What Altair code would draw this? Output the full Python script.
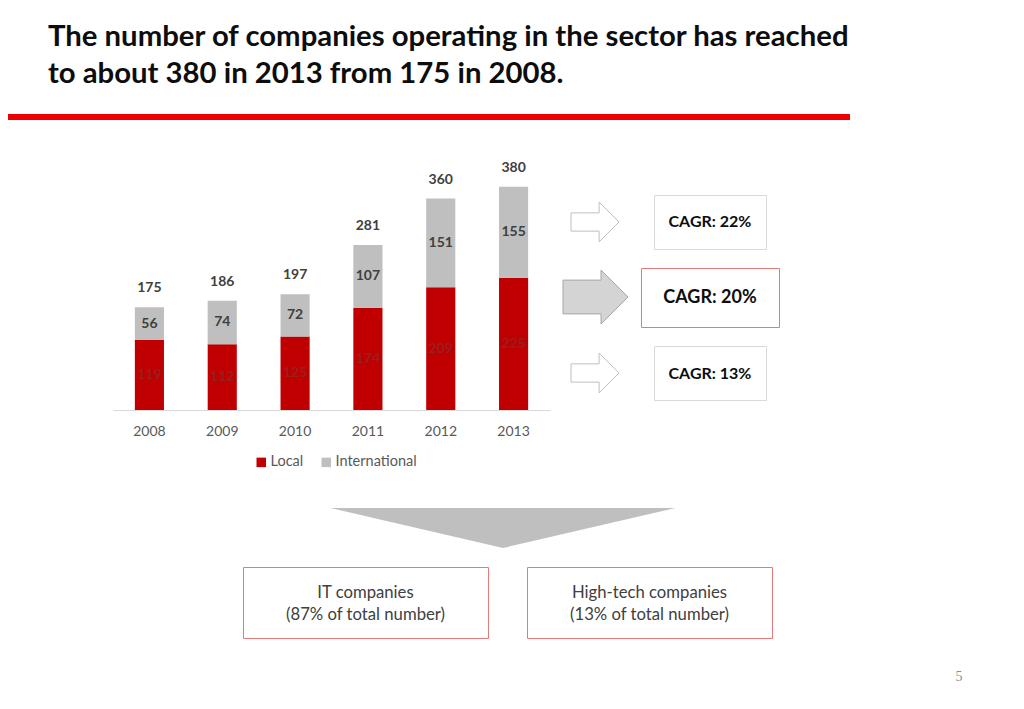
import altair as alt
import pandas as pd

# ---------------- data ----------------
years = ["2008", "2009", "2010", "2011", "2012", "2013"]
local = [119, 112, 125, 174, 209, 225]
international = [56, 74, 72, 107, 151, 155]
totals = [175, 186, 197, 281, 360, 380]
series = ["Local", "International"]
series_colors = ["#c00000", "#bfbfbf"]
label_colors = ["#9a1f1f", "#404040"]

title_lines = [
    "The number of companies operating in the sector has reached",
    "to about 380 in 2013 from 175 in 2008.",
]
cagr_labels = ["CAGR: 22%", "CAGR: 20%", "CAGR: 13%"]
split_labels = [
    ["IT companies", "(87% of total number)"],
    ["High-tech companies", "(13% of total number)"],
]
page_number = "5"

# ---------------- tables ----------------
rows = []
for i, y in enumerate(years):
    start = 0
    for s, vals in zip(series, [local, international]):
        v = vals[i]
        rows.append({"year": y, "series": s, "value": v, "start": start,
                     "end": start + v, "mid": start + v / 2,
                     "order": series.index(s)})
        start += v
df = pd.DataFrame(rows)
tot = pd.DataFrame({"year": years, "total": totals})

FONT = "Lato"
X0, Y0 = 113, 175  # page position of plot origin


def px(x):
    return x - X0


def py(y):
    return y - Y0


xscale = alt.Scale(domain=years, paddingInner=0.6, paddingOuter=0.3)
yscale = alt.Scale(domain=[0, 400])

bars = alt.Chart(df).mark_bar().encode(
    x=alt.X("year:N", scale=xscale, sort=years,
            axis=alt.Axis(title=None, labelAngle=0, ticks=False, domainColor="#d9d9d9",
                          domainWidth=1, labelFont=FONT, labelFontSize=14,
                          labelColor="#595959", labelPadding=14)),
    y=alt.Y("start:Q", scale=yscale, axis=None),
    y2="end:Q",
    color=alt.Color("series:N", scale=alt.Scale(domain=series, range=series_colors),
                    legend=alt.Legend(title=None, orient="none", legendX=141, legendY=280,
                                      direction="horizontal", symbolType="square",
                                      symbolSize=90, symbolStrokeWidth=0,
                                      labelFont=FONT, labelFontSize=14.5,
                                      labelColor="#595959", labelOffset=2,
                                      columnPadding=15)),
    order="order:Q",
)

seg_labels = alt.Chart(df).mark_text(font=FONT, fontSize=14, fontWeight="bold",
                                     baseline="middle").encode(
    x=alt.X("year:N", scale=xscale, sort=years),
    y=alt.Y("mid:Q", scale=yscale),
    text="value:Q",
    color=alt.Color("series:N", scale=alt.Scale(domain=series, range=label_colors),
                    legend=None),
)

tot_labels = alt.Chart(tot).mark_text(font=FONT, fontSize=14, fontWeight="bold",
                                      baseline="middle", dy=-19, color="#404040").encode(
    x=alt.X("year:N", scale=xscale, sort=years),
    y=alt.Y("total:Q", scale=yscale),
    text="total:Q",
)

one = alt.Data(values=[{"k": 1}])


def text_layer(txt, x, y, **kw):
    return alt.Chart(one).mark_text(text=txt, font=FONT, **kw).encode(
        x=alt.value(px(x)), y=alt.value(py(y)))


def box(x1, x2, y1, y2, stroke):
    return alt.Chart(one).mark_rect(fill="white", stroke=stroke, strokeWidth=1).encode(
        x=alt.value(px(x1)), x2=alt.value(px(x2)), y=alt.value(py(y1)), y2=alt.value(py(y2)))


def arrow(cx, cy, width, half_h, body, head, fill, stroke):
    path = (f"M -1 {-body} L {head} {-body} L {head} {-half_h} L 1 0 "
            f"L {head} {half_h} L {head} {body} L -1 {body} Z")
    return alt.Chart(one).mark_point(shape=path, size=width * width, fill=fill,
                                     stroke=stroke, strokeWidth=1, opacity=1,
                                     fillOpacity=1, filled=True).encode(
        x=alt.value(px(cx)), y=alt.value(py(cy)))


layers = [bars, seg_labels, tot_labels]

# title and red line
layers.append(text_layer(title_lines[0], 48, 46, align="left", baseline="alphabetic",
                         fontSize=29.3, fontWeight="bold", color="#0d0d0d"))
layers.append(text_layer(title_lines[1], 48, 83, align="left", baseline="alphabetic",
                         fontSize=29.3, fontWeight="bold", color="#0d0d0d"))
layers.append(alt.Chart(one).mark_rule(color="#ee0000", strokeWidth=6).encode(
    x=alt.value(px(0)), x2=alt.value(px(850)), y=alt.value(py(117))))

# arrows
layers.append(arrow(595, 222, 48, 0.83, 0.38, 0.17, "white", "#bfbfbf"))
layers.append(arrow(595.5, 297, 65, 0.83, 0.52, 0.17, "#d4d4d4", "#a6a6a6"))
layers.append(arrow(595, 373, 48, 0.83, 0.38, 0.17, "white", "#bfbfbf"))

# CAGR boxes
layers.append(box(654.5, 766.5, 195.5, 249.5, "#d9d9d9"))
layers.append(box(641.5, 779.5, 268.5, 327.5, "#e37b7b"))
layers.append(box(654.5, 766.5, 346.5, 400.5, "#d9d9d9"))
layers.append(text_layer(cagr_labels[0], 710, 222, align="center", baseline="middle",
                         fontSize=16, fontWeight="bold", color="#0d0d0d"))
layers.append(text_layer(cagr_labels[1], 710, 298, align="center", baseline="middle",
                         fontSize=18, fontWeight="bold", color="#0d0d0d"))
layers.append(text_layer(cagr_labels[2], 710, 374, align="center", baseline="middle",
                         fontSize=16, fontWeight="bold", color="#0d0d0d"))

# funnel triangle
layers.append(alt.Chart(one).mark_point(
    shape="M -1 -0.116 L 1 -0.116 L 0 0.116 Z", size=345 * 345, fill="#bfbfbf",
    stroke="#bfbfbf", strokeWidth=0, opacity=1, fillOpacity=1, filled=True).encode(
    x=alt.value(px(503)), y=alt.value(py(528))))

# bottom boxes
layers.append(box(243.5, 488.5, 567.5, 638.5, "#e37b7b"))
layers.append(box(527.5, 772.5, 567.5, 638.5, "#e37b7b"))
layers.append(text_layer(split_labels[0], 365.5, 593, align="center", baseline="middle",
                         fontSize=16.7, color="#404040", lineHeight=22))
layers.append(text_layer(split_labels[1], 649.5, 593, align="center", baseline="middle",
                         fontSize=16.7, color="#404040", lineHeight=22))

# page number
layers.append(alt.Chart(one).mark_text(text=page_number, font="Liberation Sans Narrow",
                                       fontSize=14, color="#8c8c8c").encode(
    x=alt.value(px(959)), y=alt.value(py(677))))

chart = alt.layer(*layers).resolve_scale(color="independent").properties(
    width=437, height=235,
    autosize=alt.AutoSizeParams(type="none"),
    padding={"left": X0 - 8, "top": Y0 - 8, "right": 1008 - (X0 - 8) - 437,
             "bottom": 693 - (Y0 - 8) - 235},
    background="white",
).configure_view(stroke=None)

chart.save("out.html", embed_options={"renderer": "svg", "actions": False})
